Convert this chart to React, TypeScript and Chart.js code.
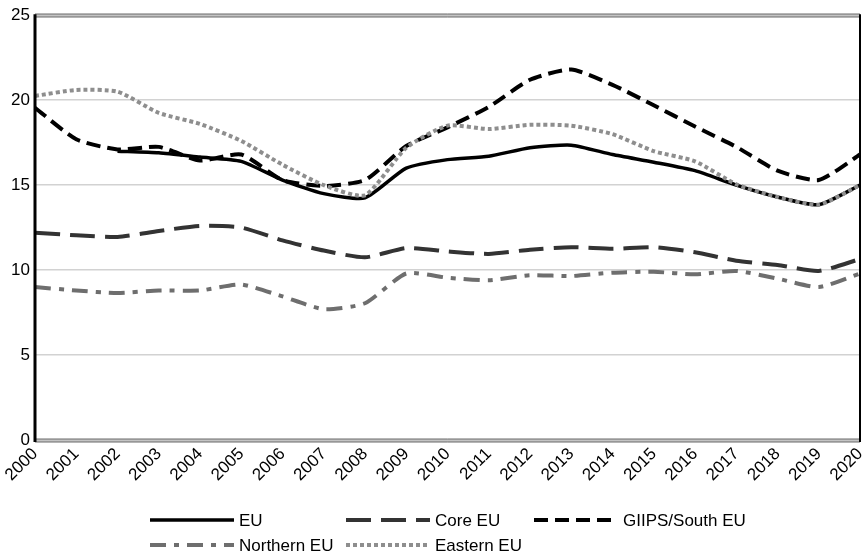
import React, { useEffect, useRef } from "react";
import { Chart, registerables } from "chart.js";

Chart.register(...registerables);

const years = [
  "2000", "2001", "2002", "2003", "2004", "2005", "2006", "2007", "2008", "2009", "2010",
  "2011", "2012", "2013", "2014", "2015", "2016", "2017", "2018", "2019", "2020",
];
const seriesNames = ["EU", "Core EU", "GIIPS/South EU", "Northern EU", "Eastern EU"];
const euValues = [null, null, 17.0, 16.9, 16.65, 16.4, 15.3, 14.5, 14.25, 16.0, 16.5, 16.7, 17.2, 17.35, 16.8, 16.35, 15.85, 15.0, 14.3, 13.85, 15.0];
const coreValues = [12.2, 12.05, 11.95, 12.3, 12.6, 12.5, 11.75, 11.15, 10.75, 11.3, 11.1, 10.95, 11.2, 11.35, 11.25, 11.35, 11.05, 10.55, 10.3, 9.95, 10.65];
const giipsValues = [19.55, 17.7, 17.1, 17.25, 16.45, 16.8, 15.3, 14.95, 15.3, 17.3, 18.4, 19.6, 21.2, 21.8, 20.9, 19.7, 18.45, 17.25, 15.85, 15.3, 16.8];
const northernValues = [9.0, 8.8, 8.65, 8.8, 8.8, 9.15, 8.45, 7.7, 8.05, 9.8, 9.55, 9.4, 9.7, 9.65, 9.85, 9.9, 9.75, 9.95, 9.5, 9.0, 9.8];
const easternValues = [20.25, 20.6, 20.5, 19.25, 18.6, 17.6, 16.2, 15.0, 14.4, 17.2, 18.5, 18.3, 18.55, 18.5, 18.0, 17.0, 16.4, 15.05, 14.3, 13.85, 15.0];
const yMin = 0;
const yMax = 25;
const yStep = 5;

const FONT = "'Liberation Sans', Arial, Helvetica, sans-serif";

export default function App() {
  const ref = useRef<HTMLCanvasElement | null>(null);

  useEffect(() => {
    const canvas = ref.current;
    if (!canvas) return;

    const styles = [
      { color: "#000000", width: 3.5, dash: [] as number[] },
      { color: "#333333", width: 4, dash: [25, 10] },
      { color: "#000000", width: 4, dash: [14, 7] },
      { color: "#6e6e6e", width: 4, dash: [16, 8, 5, 8] },
      { color: "#8e8e8e", width: 4, dash: [4, 3] },
    ];
    const allValues = [euValues, coreValues, giipsValues, northernValues, easternValues];
    const orders = [2, 4, 3, 5, 1];

    const datasets = seriesNames.map((name, i) => ({
      label: name,
      data: allValues[i],
      borderColor: styles[i].color,
      backgroundColor: styles[i].color,
      borderWidth: styles[i].width,
      borderDash: styles[i].dash,
      borderCapStyle: "butt" as const,
      borderJoinStyle: "round" as const,
      pointRadius: 0,
      pointHoverRadius: 0,
      tension: 0.2,
      fill: false,
      spanGaps: false,
      order: orders[i],
    }));

    const framePlugin = {
      id: "frame",
      afterDraw(chart: any) {
        const { ctx, chartArea } = chart;
        const { left, right, top, bottom } = chartArea;
        ctx.save();
        ctx.setLineDash([]);
        const dbl = (y: number) => {
          ctx.strokeStyle = "#c4c4c4";
          ctx.lineWidth = 3;
          ctx.beginPath();
          ctx.moveTo(left, y);
          ctx.lineTo(right, y);
          ctx.stroke();
          ctx.strokeStyle = "#6a6a6a";
          ctx.lineWidth = 1;
          ctx.beginPath();
          ctx.moveTo(left, y - 1.5);
          ctx.lineTo(right, y - 1.5);
          ctx.moveTo(left, y + 1.5);
          ctx.lineTo(right, y + 1.5);
          ctx.stroke();
        };
        dbl(Math.round(top) + 0.5);
        dbl(Math.round(bottom) + 0.5);
        ctx.strokeStyle = "#000000";
        ctx.lineWidth = 3;
        ctx.beginPath();
        ctx.moveTo(left, top - 1);
        ctx.lineTo(left, bottom + 2);
        ctx.stroke();
        ctx.lineWidth = 2;
        ctx.beginPath();
        ctx.moveTo(right, top - 1);
        ctx.lineTo(right, bottom + 2);
        ctx.stroke();

        // legend
        const cols = [150, 346, 534];
        const rows = [520, 545];
        const lineLen = 84;
        ctx.font = `17px ${FONT}`;
        ctx.textBaseline = "middle";
        ctx.textAlign = "left";
        seriesNames.forEach((name, i) => {
          const x = cols[i % 3];
          const y = rows[Math.floor(i / 3)];
          ctx.strokeStyle = styles[i].color;
          ctx.lineWidth = styles[i].width;
          ctx.lineCap = "butt";
          ctx.setLineDash(styles[i].dash);
          ctx.beginPath();
          ctx.moveTo(x, y);
          ctx.lineTo(x + lineLen, y);
          ctx.stroke();
          ctx.setLineDash([]);
          ctx.fillStyle = "#000000";
          ctx.fillText(name, x + lineLen + 5, y + 1);
        });
        ctx.restore();
      },
    };

    const chart = new Chart(canvas, {
      type: "line",
      data: { labels: years, datasets },
      options: {
        responsive: false,
        animation: false,
        maintainAspectRatio: false,
        layout: { padding: { top: 14, right: 2, bottom: 54, left: 0 } },
        plugins: {
          legend: { display: false },
          tooltip: { enabled: false },
        },
        scales: {
          x: {
            type: "category",
            offset: false,
            grid: { display: false, drawTicks: false },
            border: { display: false },
            ticks: {
              autoSkip: false,
              maxRotation: 45,
              minRotation: 45,
              padding: 4,
              color: "#000000",
              font: { family: FONT, size: 17 },
            },
            afterFit(scale: any) {
              scale.height = 60;
              scale.paddingLeft = 0;
              scale.paddingRight = 0;
            },
          },
          y: {
            min: yMin,
            max: yMax,
            grid: { color: "#d2d2d2", lineWidth: 1.5, drawTicks: false },
            border: { display: false },
            ticks: {
              stepSize: yStep,
              padding: 5,
              color: "#000000",
              font: { family: FONT, size: 17 },
            },
            afterFit(scale: any) {
              scale.width = 35;
            },
          },
        },
      },
      plugins: [framePlugin],
    });

    return () => chart.destroy();
  }, []);

  return (
    <div style={{ position: "fixed", left: 0, top: 0, width: 862, height: 554, background: "#ffffff" }}>
      <canvas ref={ref} width={862} height={554} style={{ display: "block", width: 862, height: 554 }} />
    </div>
  );
}
